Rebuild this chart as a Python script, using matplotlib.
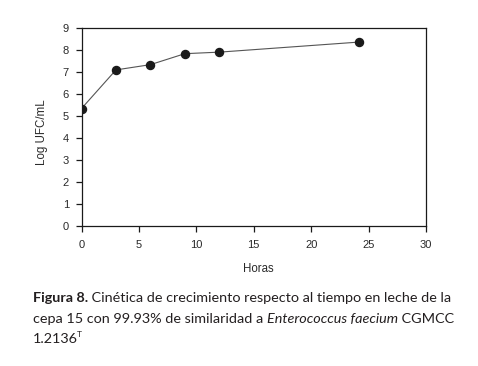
import matplotlib
matplotlib.use('Agg')
import matplotlib.pyplot as plt

# growth kinetics data
horas = [0, 3, 6, 9, 12, 24.2]
log_ufc = [5.33, 7.09, 7.33, 7.83, 7.90, 8.36]

xticks = [0, 5, 10, 15, 20, 25, 30]
yticks = list(range(0, 10))

# caption: list of (text, weight, style) segments per line
caption_lines = [
    [('Figura 8.', 'bold', 'normal'),
     (' Cinética de crecimiento respecto al tiempo en leche de la', 'normal', 'normal')],
    [('cepa 15 con 99.93% de similaridad a ', 'normal', 'normal'),
     ('Enterococcus faecium', 'normal', 'italic'),
     (' CGMCC', 'normal', 'normal')],
    [('1.2136', 'normal', 'normal')],
]

plt.rcParams['font.family'] = ['Liberation Sans', 'DejaVu Sans']

fig = plt.figure(figsize=(4.78, 3.66), dpi=100)
ax = fig.add_axes([81.5 / 478, 1 - 225.5 / 366, (426 - 81.5) / 478, (225.5 - 28) / 366])

ax.plot(horas, log_ufc, color='#555555', lw=0.8, zorder=2)
ax.plot(horas, log_ufc, ls='none', marker='o', ms=5.8, color='#1a1a1a', zorder=3)

ax.set_xlim(0, 30)
ax.set_ylim(0, 9)
ax.set_xticks(xticks)
ax.set_yticks(yticks)
for sp in ax.spines.values():
    sp.set_linewidth(0.9)
    sp.set_color('#1a1a1a')
ax.tick_params(direction='out', length=4.5, width=0.9, color='#1a1a1a',
               labelsize=8, labelcolor='#2a2a2a')
ax.tick_params(axis='x', pad=6)
ax.tick_params(axis='y', pad=4.5)

fig.text(42 / 478, 1 - 132 / 366, 'Log UFC/mL', rotation=90, ha='center', va='center',
         fontsize=8.3, color='#2a2a2a')
fig.text(258.7 / 478, 1 - 268.7 / 366, 'Horas', ha='center', va='center',
         fontsize=8.3, color='#2a2a2a')

renderer = fig.canvas.get_renderer()
cap_y = [302, 323, 343]
for segs, y in zip(caption_lines, cap_y):
    x = 33
    for txt, weight, style in segs:
        t = fig.text(x / 478, 1 - y / 366, txt, ha='left', va='baseline', fontsize=10.4,
                     family='Lato', weight=weight, style=style, color='#231f20')
        x = t.get_window_extent(renderer).x1
# superscript T after 1.2136
fig.text((x - 1.5) / 478, 1 - (cap_y[2] - 6) / 366, 'T', ha='left', va='baseline',
         fontsize=6, family='Lato', color='#231f20')

plt.savefig('out.png', dpi=100)
